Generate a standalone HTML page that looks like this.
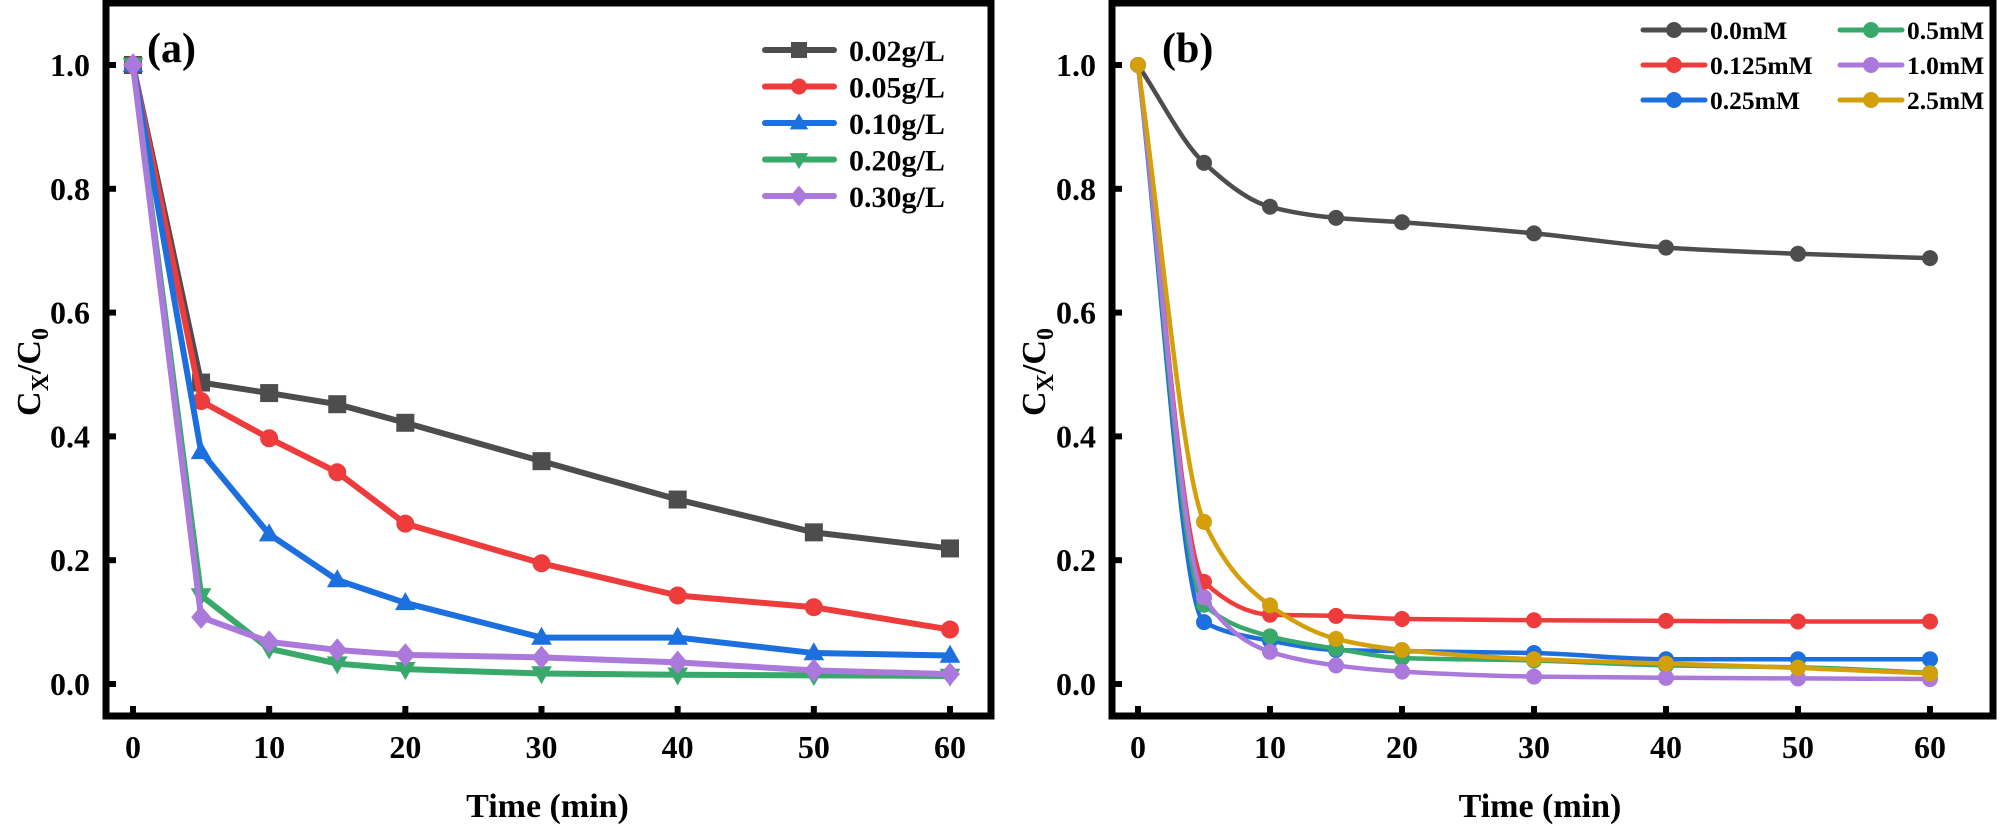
<!DOCTYPE html>
<html><head><meta charset="utf-8"><style>
html,body{margin:0;padding:0;background:#fff}
svg{display:block}
text{font-family:"Liberation Serif",serif;font-weight:bold;fill:#000}
</style></head><body>
<svg id="c" width="2000" height="826" viewBox="0 0 2000 826" xmlns="http://www.w3.org/2000/svg"></svg>
<script>
const times=[0,5,10,15,20,30,40,50,60];
const yTicks=[0.0,0.2,0.4,0.6,0.8,1.0];
const xTicks=[0,10,20,30,40,50,60];
const aLabels=["0.02g/L","0.05g/L","0.10g/L","0.20g/L","0.30g/L"];
const a002=[1,0.487,0.470,0.452,0.422,0.360,0.298,0.245,0.219];
const a005=[1,0.457,0.397,0.342,0.259,0.195,0.143,0.124,0.088];
const a010=[1,0.375,0.242,0.168,0.131,0.075,0.075,0.050,0.046];
const a020=[1,0.143,0.057,0.033,0.024,0.017,0.015,0.014,0.013];
const a030=[1,0.108,0.068,0.055,0.047,0.043,0.035,0.022,0.016];
const bLabels=["0.0mM","0.125mM","0.25mM","0.5mM","1.0mM","2.5mM"];
const b00=[1,0.842,0.771,0.753,0.746,0.728,0.705,0.695,0.688];
const b0125=[1,0.165,0.112,0.110,0.105,0.103,0.102,0.101,0.101];
const b025=[1,0.100,0.070,0.055,0.053,0.050,0.040,0.040,0.040];
const b05=[1,0.128,0.077,0.057,0.042,0.038,0.030,0.027,0.018];
const b10=[1,0.140,0.052,0.030,0.020,0.012,0.010,0.009,0.008];
const b25=[1,0.262,0.127,0.073,0.055,0.040,0.033,0.026,0.017];

const NS="http://www.w3.org/2000/svg";
const svg=document.getElementById('c');
function mk(tag,attrs,parent,txt){const e=document.createElementNS(NS,tag);for(const k in attrs)e.setAttribute(k,attrs[k]);if(txt!==undefined)e.textContent=txt;(parent||svg).appendChild(e);return e;}

const panels=[
 {id:'a',L:106,R:991,T:3,B:716,x0:133,x1:950,y0:684,y1:65,letter:'(a)',lx:147,ytx:30},
 {id:'b',L:1112,R:1993,T:3,B:716,x0:1138,x1:1930,y0:684,y1:65,letter:'(b)',lx:1162,ytx:1035}
];
function sx(p,v){return p.x0+(v-0)/(60-0)*(p.x1-p.x0);}
function sy(p,v){return p.y0+(v-0)/(1-0)*(p.y1-p.y0);}

function axes(p){
  const g=mk('g',{});
  
  
  const fr=mk('rect',{x:p.L,y:p.T,width:p.R-p.L,height:p.B-p.T,fill:'none',stroke:'#000','stroke-width':7},g);
  
  
  yTicks.forEach(v=>{
    const y=sy(p,v);
    mk('line',{x1:p.L,x2:p.L+10,y1:y,y2:y,stroke:'#000','stroke-width':6},g);
    const t=mk('text',{x:p.L-16,y:y+11,'text-anchor':'end','font-size':32},g,v.toFixed(1));
    
    
  });
  xTicks.forEach(v=>{
    const x=sx(p,v);
    mk('line',{x1:x,x2:x,y1:p.B,y2:p.B-10,stroke:'#000','stroke-width':6},g);
    const t=mk('text',{x:x,y:758,'text-anchor':'middle','font-size':32},g,String(v));
    
    
  });
  const xt=mk('text',{x:(p.x0+p.x1)/2+6,y:817,'text-anchor':'middle','font-size':34},g,'Time (min)');
  
  
  const yt=mk('text',{transform:`translate(${p.ytx+10},372) rotate(-90)`,'text-anchor':'middle','font-size':34},g);
  
  
  yt.innerHTML='C<tspan font-size="24" dy="8">X</tspan><tspan dy="-8">/C</tspan><tspan font-size="24" dy="8">0</tspan>';
  const lt=mk('text',{x:p.lx,y:62,'font-size':42},g,p.letter);
  
  
}
panels.forEach(axes);

function marker(g,shape,x,y,color,s){
  let e;
  if(shape==='square')e=mk('rect',{x:x-s,y:y-s,width:2*s,height:2*s,fill:color},g);
  else if(shape==='circle')e=mk('circle',{cx:x,cy:y,r:s,fill:color},g);
  else if(shape==='up')e=mk('polygon',{points:`${x},${y-s*1.2} ${x-s*1.15},${y+s*0.8} ${x+s*1.15},${y+s*0.8}`,fill:color},g);
  else if(shape==='down')e=mk('polygon',{points:`${x},${y+s*1.2} ${x-s*1.15},${y-s*0.8} ${x+s*1.15},${y-s*0.8}`,fill:color},g);
  else e=mk('polygon',{points:`${x},${y-s*1.3} ${x+s*1.1},${y} ${x},${y+s*1.3} ${x-s*1.1},${y}`,fill:color},g);
  return e;
}

// Panel a
const pa=panels[0];
const aSeries=[a002,a005,a010,a020,a030];
const aColors=['#4d4d4d','#ee3b3b','#1c6fde','#38a96a','#ab78dc'];
const aShapes=['square','circle','up','down','diamond'];
aSeries.forEach((vals,i)=>{
  const g=mk('g',{});
  
  
  const pts=vals.map((v,j)=>[sx(pa,times[j]),sy(pa,v)]);
  mk('polyline',{points:pts.map(q=>q.join(',')).join(' '),fill:'none',stroke:aColors[i],'stroke-width':6,'stroke-linejoin':'round'},g);
  pts.forEach(q=>{const m=marker(g,aShapes[i],q[0],q[1],aColors[i],9);
    
    });
});
// legend a
aLabels.forEach((lab,i)=>{
  const y=50+i*36.5;
  const g=mk('g',{});
  
  
  mk('line',{x1:765,x2:834,y1:y,y2:y,stroke:aColors[i],'stroke-width':6,'stroke-linecap':'round'},g);
  marker(g,aShapes[i],799,y,aColors[i],8);
  mk('text',{x:849,y:y+11,'font-size':30},g,lab);
});

// Panel b
const pb=panels[1];
const bSeries=[b00,b0125,b025,b05,b10,b25];
const bColors=['#4d4d4d','#ee3b3b','#1c6fde','#38a96a','#ab78dc','#d39f0b'];
function smooth(pts){
  const n=pts.length;
  const dx=[],dy=[],m=[];
  for(let i=0;i<n-1;i++){dx.push(pts[i+1][0]-pts[i][0]);dy.push(pts[i+1][1]-pts[i][1]);m.push(dy[i]/dx[i]);}
  const t=[m[0]];
  for(let i=1;i<n-1;i++){
    if(m[i-1]*m[i]<=0)t.push(0);
    else{const w1=2*dx[i]+dx[i-1],w2=dx[i]+2*dx[i-1];t.push((w1+w2)/(w1/m[i-1]+w2/m[i]));}
  }
  t.push(m[n-2]);
  let d=`M${pts[0][0]},${pts[0][1]}`;
  for(let i=0;i<n-1;i++){
    const h=dx[i]/3;
    d+=` C${pts[i][0]+h},${pts[i][1]+t[i]*h} ${pts[i+1][0]-h},${pts[i+1][1]-t[i+1]*h} ${pts[i+1][0]},${pts[i+1][1]}`;
  }
  return d;
}
[0,1,2,3,4,5].forEach(i=>{
  const vals=bSeries[i];
  const g=mk('g',{});
  
  
  const pts=vals.map((v,j)=>[sx(pb,times[j]),sy(pb,v)]);
  mk('path',{d:smooth(pts),fill:'none',stroke:bColors[i],'stroke-width':4.5},g);
  pts.forEach(q=>{const m=marker(g,'circle',q[0],q[1],bColors[i],8);
    
    });
});
// legend b
bLabels.forEach((lab,i)=>{
  const col=Math.floor(i/3),row=i%3;
  const lx=col===0?1643:1840, y=30+row*35;
  const g=mk('g',{});
  
  
  mk('line',{x1:lx,x2:lx+62,y1:y,y2:y,stroke:bColors[i],'stroke-width':5,'stroke-linecap':'round'},g);
  mk('circle',{cx:lx+31,cy:y,r:8,fill:bColors[i]},g);
  mk('text',{x:lx+67,y:y+9,'font-size':25.5},g,lab);
});
</script>
</body></html>
